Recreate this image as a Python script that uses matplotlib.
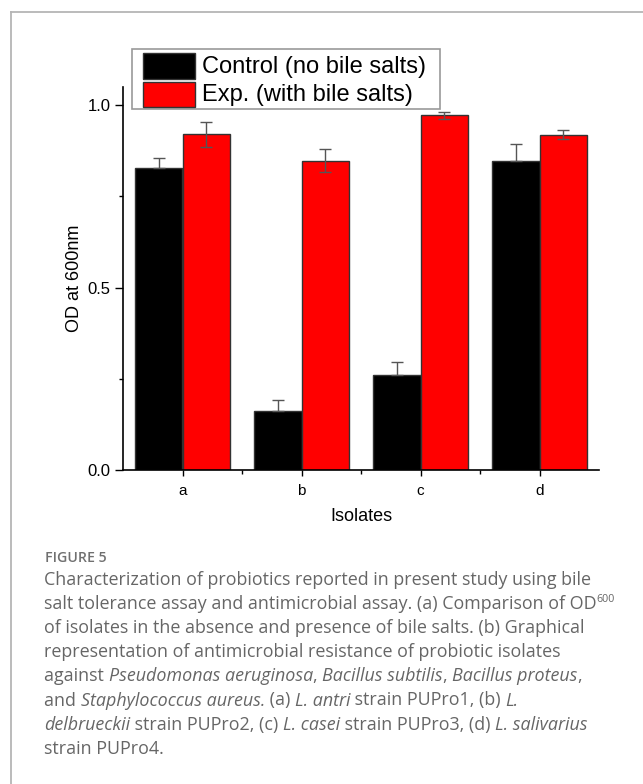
import matplotlib
matplotlib.use("Agg")
import matplotlib.pyplot as plt
from matplotlib.lines import Line2D
from matplotlib.patches import Rectangle
from matplotlib.ticker import MultipleLocator, FixedLocator
import numpy as np

# data
ISOLATES = ["a", "b", "c", "d"]
CONTROL = [0.829, 0.162, 0.260, 0.847]
CONTROL_ERR = [0.025, 0.030, 0.035, 0.048]
EXP = [0.920, 0.848, 0.972, 0.919]
EXP_ERR = [0.035, 0.032, 0.010, 0.012]
LABELS = ["Control (no bile salts)", "Exp. (with bile salts)"]
COLORS = ["#000000", "#ff0000"]

W, H = 643, 784
fig = plt.figure(figsize=(W / 100, H / 100), dpi=100)
plt.rcParams["font.family"] = ["Liberation Sans", "DejaVu Sans"]


def fx(px):
    return px / W


def fy(py):
    return 1 - py / H


ax = fig.add_axes([fx(123), fy(470), (599 - 123) / W, (470 - 87) / H])
x = np.arange(1, len(ISOLATES) + 1)
bw = 0.4
err_kw = dict(ecolor="#555555", elinewidth=1.0, capsize=4, capthick=1.0)
ax.bar(x - bw / 2, CONTROL, bw, color=COLORS[0], edgecolor="#333333", linewidth=1,
       yerr=[np.zeros(len(CONTROL)), CONTROL_ERR], error_kw=err_kw)
ax.bar(x + bw / 2, EXP, bw, color=COLORS[1], edgecolor="#333333", linewidth=1,
       yerr=EXP_ERR, error_kw=err_kw)

ax.set_xlim(0.5, 4.5)
ax.set_ylim(0, 1.05)
ax.set_xticks(x)
ax.set_xticklabels(ISOLATES, fontsize=11)
ax.xaxis.set_minor_locator(FixedLocator([1.5, 2.5, 3.5]))
ax.set_yticks([0.0, 0.5, 1.0])
ax.set_yticklabels(["0.0", "0.5", "1.0"], fontsize=12)
ax.yaxis.set_minor_locator(MultipleLocator(0.25))
ax.tick_params(axis="y", which="major", length=6, width=1, pad=3)
ax.tick_params(axis="y", which="minor", length=3, width=1)
ax.tick_params(axis="x", which="major", length=4, width=1, pad=6)
ax.tick_params(axis="x", which="minor", length=3, width=1)
for s in ["top", "right"]:
    ax.spines[s].set_visible(False)
for s in ["left", "bottom"]:
    ax.spines[s].set_linewidth(1.2)
ax.set_ylabel("OD at 600nm", fontsize=13, labelpad=3)
ax.set_xlabel("Isolates", fontsize=13, labelpad=7)

# legend drawn by hand so the box matches the original
fig.add_artist(Rectangle((fx(132), fy(109)), (440 - 132) / W, (109 - 49) / H,
                         transform=fig.transFigure, fc="white", ec="#999999", lw=1.2))
for i, (lab, col) in enumerate(zip(LABELS, COLORS)):
    top = 53.5 + i * 28.3
    fig.add_artist(Rectangle((fx(143), fy(top + 25.5)), 52 / W, 25.5 / H,
                             transform=fig.transFigure, fc=col, ec="#333333", lw=1))
    fig.text(fx(202), fy(top + 13), lab, fontsize=17, va="center", ha="left")

# outer frame (top and left only)
fig.add_artist(Line2D([fx(11), fx(11)], [0, fy(12)], transform=fig.transFigure,
                      color="#b5b5b5", lw=1.3))
fig.add_artist(Line2D([fx(11), 1], [fy(12), fy(12)], transform=fig.transFigure,
                      color="#b5b5b5", lw=1.3))

# caption
CAP_COLOR = "#666666"
CAP_FONT = ["Open Sans", "DejaVu Sans"]
fig.text(fx(45), fy(557.5), "FIGURE 5", fontsize=10.2, color="#707070",
         family=CAP_FONT, weight="semibold", va="center")

CAPTION = [
    [("Characterization of probiotics reported in present study using bile", "n")],
    [("salt tolerance assay and antimicrobial assay. (a) Comparison of OD", "n"), ("600", "sup")],
    [("of isolates in the absence and presence of bile salts. (b) Graphical", "n")],
    [("representation of antimicrobial resistance of probiotic isolates", "n")],
    [("against ", "n"), ("Pseudomonas aeruginosa", "i"), (", ", "n"), ("Bacillus subtilis", "i"),
     (", ", "n"), ("Bacillus proteus", "i"), (",", "n")],
    [("and ", "n"), ("Staphylococcus aureus.", "i"), (" (a) ", "n"), ("L. antri", "i"),
     (" strain PUPro1, (b) ", "n"), ("L.", "i")],
    [("delbrueckii", "i"), (" strain PUPro2, (c) ", "n"), ("L. casei", "i"),
     (" strain PUPro3, (d) ", "n"), ("L. salivarius", "i")],
    [("strain PUPro4.", "n")],
]

fig.canvas.draw()
renderer = fig.canvas.get_renderer()
base = dict(color=CAP_COLOR, family=CAP_FONT, va="center", ha="left")

# fit the first line to its width in the original (about 545 px)
probe = fig.text(0, 0, CAPTION[0][0][0], fontsize=13, **base)
fs = 13 * 545 / probe.get_window_extent(renderer).width
probe.remove()

for i, line in enumerate(CAPTION):
    xp = 44
    yp = 580 + i * 24.1
    for txt, kind in line:
        kw = dict(base, fontsize=fs)
        yy = yp
        if kind == "i":
            kw["style"] = "italic"
        if kind == "sup":
            kw["fontsize"] = fs * 0.6
            yy = yp - 5
        t = fig.text(fx(xp), fy(yy), txt, **kw)
        xp += t.get_window_extent(renderer).width

fig.savefig("out.png", dpi=100, facecolor="white")
